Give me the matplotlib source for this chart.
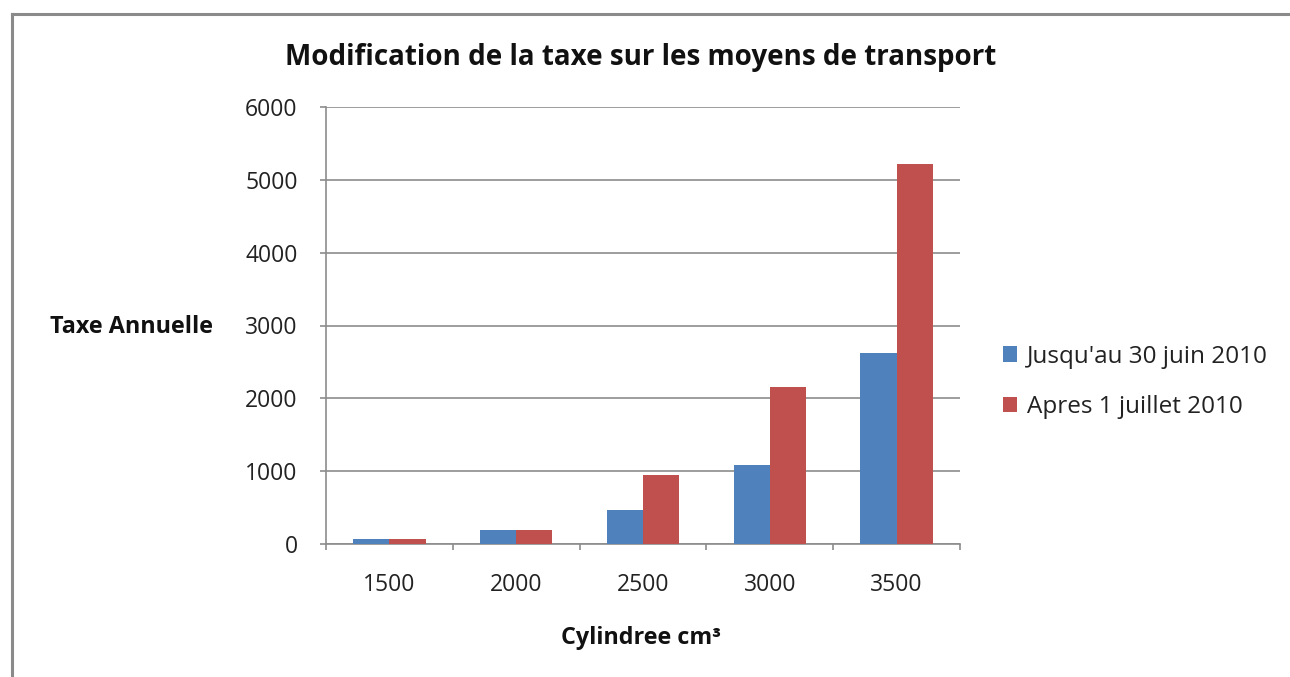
import matplotlib
matplotlib.use("Agg")
import matplotlib.pyplot as plt
import numpy as np

categories = ["1500", "2000", "2500", "3000", "3500"]
series_before = [62, 190, 467, 1085, 2623]
series_after = [62, 190, 947, 2160, 5218]
series_names = ["Jusqu'au 30 juin 2010", "Apres 1 juillet 2010"]
y_ticks = [0, 1000, 2000, 3000, 4000, 5000, 6000]

W, H = 1290, 677
fig = plt.figure(figsize=(W / 100, H / 100), dpi=100)
plt.rcParams['font.family'] = ['Open Sans', 'DejaVu Sans']

# outer frame (top and left visible)
fig.add_artist(plt.Line2D([12 / W, 1.0], [1 - 14 / H, 1 - 14 / H], color="#8a8a8a", lw=2.2, transform=fig.transFigure))
fig.add_artist(plt.Line2D([12 / W, 12 / W], [0, 1 - 14 / H], color="#8a8a8a", lw=2.2, transform=fig.transFigure))

x0, x1, yt, yb = 326, 960, 107, 544
ax = fig.add_axes([x0 / W, 1 - yb / H, (x1 - x0) / W, (yb - yt) / H])

n = len(categories)
idx = np.arange(n)
bw = 1 / 3.5
ax.bar(idx - bw / 2, series_before, width=bw, color="#4F81BD", label=series_names[0], zorder=3)
ax.bar(idx + bw / 2, series_after, width=bw, color="#C0504D", label=series_names[1], zorder=3)

ax.set_xlim(-0.5, n - 0.5)
ax.set_ylim(0, 6000)
ax.set_yticks(y_ticks)
ax.set_yticklabels([str(v) for v in y_ticks], fontsize=16.5, color="#222222")
ax.yaxis.grid(True, color="#8c8c8c", lw=1.2, zorder=0)
ax.set_xticks(idx)
ax.set_xticklabels(categories, fontsize=16.5, color="#222222")
ax.tick_params(axis="x", length=0, pad=21)
ax.set_xticks(np.arange(-0.5, n, 1), minor=True)
ax.tick_params(axis="x", which="minor", length=4.5, color="#8c8c8c", width=1.2)
ax.tick_params(axis="y", length=4.5, color="#8c8c8c", width=1.2, pad=16)
for s in ["top", "right"]:
    ax.spines[s].set_visible(False)
for s in ["left", "bottom"]:
    ax.spines[s].set_color("#8c8c8c")
    ax.spines[s].set_linewidth(1.2)

fig.text(641 / W, 1 - 57 / H, "Modification de la taxe sur les moyens de transport",
         ha="center", va="center", fontsize=20, fontweight="bold", color="#111111")
fig.text(50 / W, 1 - 327 / H, "Taxe Annuelle", ha="left", va="center",
         fontsize=16.8, fontweight="bold", color="#111111")
fig.text(641 / W, 1 - 638 / H, "Cylindree cm³", ha="center", va="center",
         fontsize=16.8, fontweight="bold", color="#111111")

ax.legend(loc="center left", bbox_to_anchor=(981 / W, 1 - 382 / H), bbox_transform=fig.transFigure,
          frameon=False, fontsize=17.5, handlelength=0.58, handleheight=0.58, handletextpad=0.41,
          labelspacing=1.1, labelcolor="#222222")

fig.savefig("out.png", dpi=100)
